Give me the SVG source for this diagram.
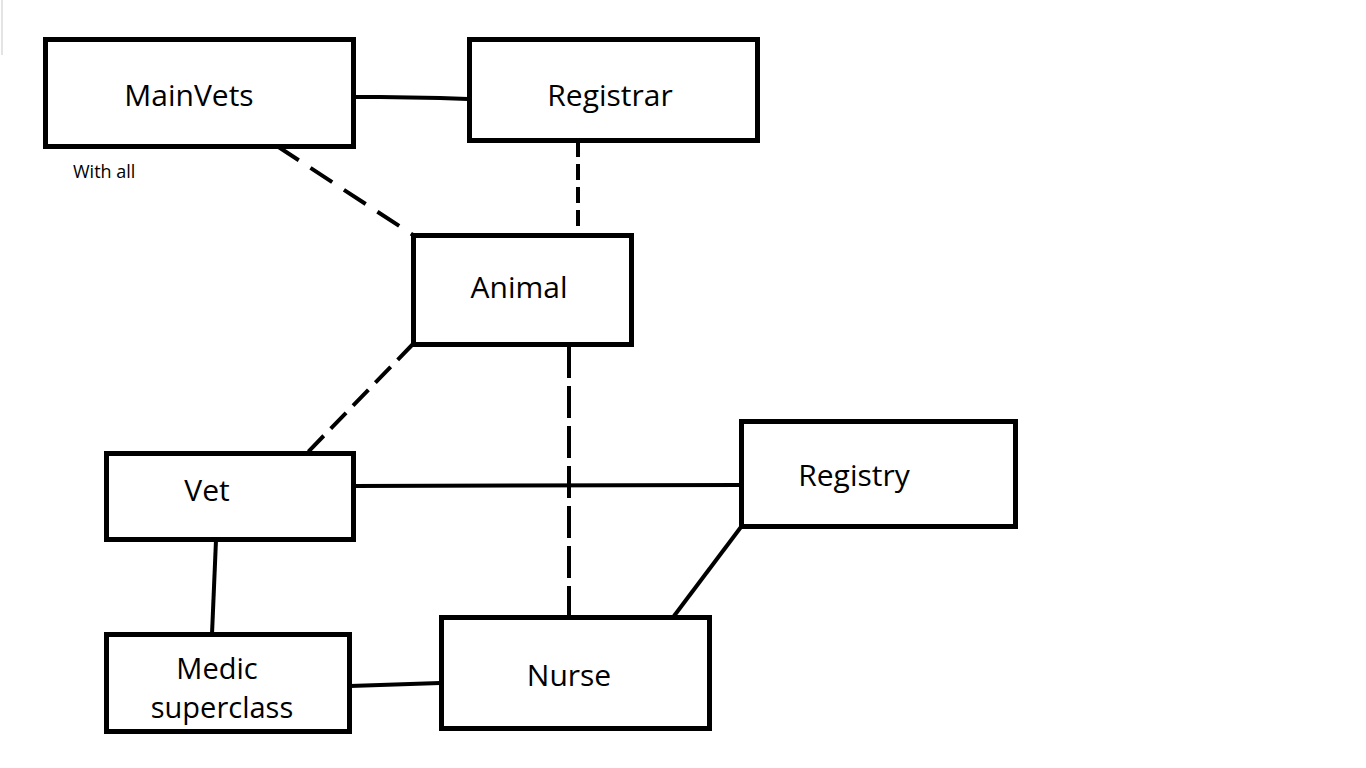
<svg xmlns="http://www.w3.org/2000/svg" width="1366" height="768" viewBox="0 0 1366 768">
<style>
.box{fill:#fff;stroke:#000;stroke-width:5}
.lbl{font-family:"Open Sans","Noto Sans","Liberation Sans",sans-serif;font-size:30px;fill:#000;text-anchor:middle}
.two{font-size:29px}
.small{font-family:"Open Sans","Noto Sans","Liberation Sans",sans-serif;font-size:18px;fill:#000}
.ln{stroke:#000;stroke-width:4;fill:none}
.d1{stroke-dasharray:26 14}
.d2{stroke-dasharray:16 7}
.d3{stroke-dasharray:22 10}
.d4{stroke-dasharray:32 8}
</style>
<rect width="1366" height="768" fill="#fff"/>
<line x1="2" y1="0" x2="2" y2="55" stroke="#e4e4e4" stroke-width="2"/>
<g id="connectors">
<path class="ln" d="M350 97 L380 97 L440 98 L468 99"/>
<line class="ln d1" x1="277" y1="146" x2="413" y2="235"/>
<line class="ln d2" x1="578" y1="141" x2="578" y2="236"/>
<line class="ln d3" x1="413" y1="344" x2="307" y2="453"/>
<line class="ln d4" x1="569" y1="346" x2="569" y2="616"/>
<line class="ln" x1="354" y1="486" x2="740" y2="485"/>
<line class="ln" x1="741" y1="527" x2="674" y2="616"/>
<line class="ln" x1="216" y1="540" x2="212" y2="634"/>
<path class="ln" d="M350 686 L380 685 L440 683"/>
</g>
<g id="MainVets">
<rect class="box" x="45.5" y="39.5" width="308" height="107"/>
<text class="lbl" x="189" y="106">MainVets</text>
</g>
<text class="small" x="73" y="178">With all</text>
<g id="Registrar">
<rect class="box" x="469.5" y="39.5" width="288" height="101"/>
<text class="lbl" x="610" y="106">Registrar</text>
</g>
<g id="Animal">
<rect class="box" x="413.5" y="235.5" width="218" height="109"/>
<text class="lbl" x="519" y="298">Animal</text>
</g>
<g id="Vet">
<rect class="box" x="106.5" y="453.5" width="247" height="86"/>
<text class="lbl" x="207" y="501">Vet</text>
</g>
<g id="Registry">
<rect class="box" x="741.5" y="421.5" width="274" height="105"/>
<text class="lbl" x="854" y="486">Registry</text>
</g>
<g id="MedicSuperclass">
<rect class="box" x="106.5" y="634.5" width="243" height="97"/>
<text class="lbl two" x="217" y="679">Medic</text>
<text class="lbl two" x="222" y="718">superclass</text>
</g>
<g id="Nurse">
<rect class="box" x="441.5" y="617.5" width="268" height="111"/>
<text class="lbl" x="569" y="686">Nurse</text>
</g>
</svg>
